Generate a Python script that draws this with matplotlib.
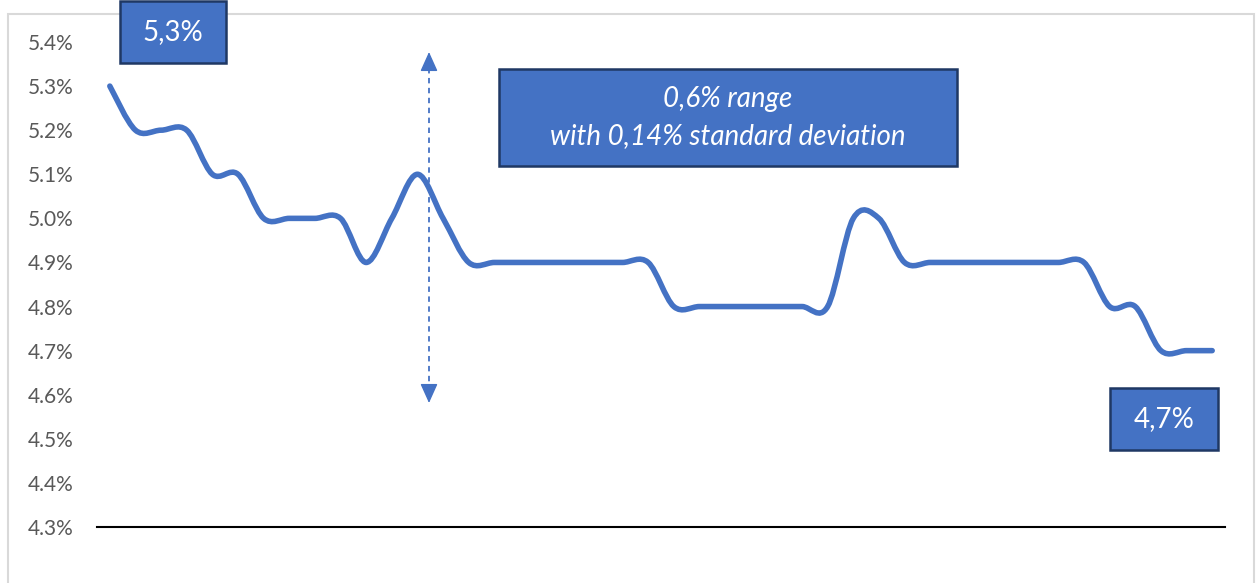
"""Smoothed rate line with range annotation."""

import matplotlib

matplotlib.use("Agg")
import matplotlib.pyplot as plt
import numpy as np
from matplotlib.lines import Line2D
from matplotlib.patches import PathPatch, Rectangle
from matplotlib.path import Path

plt.rcParams["font.family"] = ["Lato", "DejaVu Sans"]

# monthly observations (percent)
rates = [
    5.3, 5.2, 5.2, 5.2, 5.1, 5.1, 5.0, 5.0, 5.0, 5.0, 4.9,
    5.0, 5.1, 5.0, 4.9, 4.9, 4.9, 4.9, 4.9, 4.9, 4.9, 4.9,
    4.8, 4.8, 4.8, 4.8, 4.8, 4.8, 4.8, 5.0, 5.0, 4.9, 4.9,
    4.9, 4.9, 4.9, 4.9, 4.9, 4.9, 4.8, 4.8, 4.7, 4.7, 4.7,
]
y_ticks = [4.3, 4.4, 4.5, 4.6, 4.7, 4.8, 4.9, 5.0, 5.1, 5.2, 5.3, 5.4]
first_label = "5,3%"
last_label = "4,7%"
note_text = "0,6% range\nwith 0,14% standard deviation"

BLUE = "#4472C4"
NAVY = "#1F3864"
W, H = 1257, 583


def smooth_path(xs, ys):
    """Excel-style smoothed line: Catmull-Rom segments as cubic Beziers."""
    pts = np.column_stack([xs, ys]).astype(float)
    padded = np.vstack([pts[0], pts, pts[-1]])
    verts = [pts[0]]
    codes = [Path.MOVETO]
    for i in range(len(pts) - 1):
        p0, p1, p2, p3 = padded[i], padded[i + 1], padded[i + 2], padded[i + 3]
        verts += [p1 + (p2 - p0) / 6, p2 - (p3 - p1) / 6, p2]
        codes += [Path.CURVE4] * 3
    return Path(verts, codes)


def fig_box(x0, y0, x1, y1):
    """Pixel box (top-left origin) -> figure-fraction rectangle args."""
    return (x0 / W, 1 - y1 / H), (x1 - x0) / W, (y1 - y0) / H


fig = plt.figure(figsize=(W / 100, H / 100), dpi=100)

# chart area frame
xy, w, h = fig_box(8, 14, 1254, 600)
fig.patches.append(Rectangle(xy, w, h, transform=fig.transFigure, fill=False,
                             edgecolor="#D9D9D9", linewidth=1.5))

ax = fig.add_axes([97 / W, (H - 527) / H, 1128 / W, 485 / H])
ax.set_facecolor("none")

x = np.arange(len(rates))
ax.add_patch(PathPatch(smooth_path(x, rates), facecolor="none", edgecolor=BLUE,
                       linewidth=4.0, capstyle="round", joinstyle="round"))

ax.set_xlim(-0.5, len(rates) - 0.5)
ax.set_ylim(y_ticks[0], y_ticks[-1])
ax.set_yticks(y_ticks)
ax.set_yticklabels([f"{v:.1f}%" for v in y_ticks])
ax.set_xticks([])
ax.tick_params(axis="y", length=0, pad=17, labelsize=15, labelcolor="#595959")
for side in ("top", "right", "left"):
    ax.spines[side].set_visible(False)
ax.spines["bottom"].set_color("black")
ax.spines["bottom"].set_linewidth(1.5)

# dashed double arrow showing the range
arrow_x, arrow_top, arrow_bot, head = 429, 52, 403, 16
fig.add_artist(Line2D([arrow_x / W] * 2,
                      [1 - (arrow_top + head) / H, 1 - (arrow_bot - head) / H],
                      transform=fig.transFigure, color=BLUE, linewidth=1.3,
                      linestyle=(0, (3, 2.5))))
for tip, base in ((arrow_top, arrow_top + head), (arrow_bot, arrow_bot - head)):
    ax.annotate("", xy=(arrow_x, H - tip), xytext=(arrow_x, H - base),
                xycoords="figure pixels", textcoords="figure pixels",
                arrowprops=dict(arrowstyle="-|>,head_length=0.4,head_width=0.18",
                                color=BLUE, linewidth=1.0, mutation_scale=30,
                                shrinkA=0, shrinkB=0))


def label_box(x0, y0, x1, y1, text, **kw):
    xy, w, h = fig_box(x0, y0, x1, y1)
    fig.patches.append(Rectangle(xy, w, h, transform=fig.transFigure,
                                 facecolor=BLUE, edgecolor=NAVY, linewidth=1.8,
                                 zorder=5))
    fig.text(xy[0] + w / 2, xy[1] + h / 2, text, color="white", ha="center",
             va="center", zorder=6, **kw)


label_box(120, 1, 226, 63, first_label, fontsize=20)
label_box(1110, 388, 1218, 450, last_label, fontsize=20)
label_box(499, 69, 957, 166, note_text, fontsize=20, style="italic",
          linespacing=1.55)

fig.savefig("out.png", dpi=100)
